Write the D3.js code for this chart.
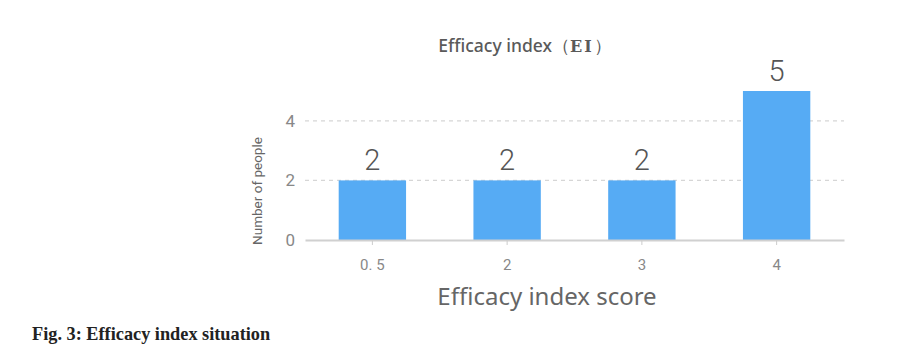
<!DOCTYPE html>
<html><head><meta charset="utf-8">
<script src="https://cdn.jsdelivr.net/npm/d3@7"></script>
<style>body{margin:0;background:#fff}</style>
</head><body>
<svg id="c" width="900" height="356"></svg>
<script>
const categories = ["0. 5", "2", "3", "4"];
const values = [2, 2, 2, 5];
const yTicks = [0, 2, 4];

const svg = d3.select("#c");
const x = d3.scaleBand().domain(categories).range([305, 844]).paddingInner(0.5).paddingOuter(0.25);
const y = d3.scaleLinear().domain([0, 5]).range([240, 91]);

// grid
svg.append("g").selectAll("line").data(yTicks.filter(d => d > 0)).join("line")
  .attr("x1", 305).attr("x2", 844).attr("y1", d => y(d)).attr("y2", d => y(d))
  .attr("stroke", "#d6d6d6").attr("stroke-width", 1.2).attr("stroke-dasharray", "4,4");

// bars
svg.append("g").selectAll("rect").data(values).join("rect")
  .attr("x", (d, i) => x(categories[i])).attr("width", x.bandwidth())
  .attr("y", d => y(d)).attr("height", d => y(0) - y(d))
  .attr("fill", "#56abf4");

// value labels
svg.append("g").selectAll("text").data(values).join("text")
  .attr("x", (d, i) => x(categories[i]) + x.bandwidth() / 2)
  .attr("y", d => y(d) - 10)
  .attr("text-anchor", "middle").attr("font-family", "Roboto").attr("font-weight", 300).attr("font-size", 29)
  .attr("fill", "#555").text(d => d);

// x axis
const xa = svg.append("g").attr("transform", "translate(0,240)").call(d3.axisBottom(x).tickSize(5).tickSizeOuter(0));
xa.select(".domain").attr("stroke", "#d0d0d0").attr("stroke-width", 2);
xa.selectAll(".tick line").attr("stroke", "#ccc");
xa.selectAll(".tick text").attr("font-family", "Roboto").attr("font-size", 15).attr("fill", "#888").attr("dy", "1.45em");

// y axis labels
const ya = svg.append("g").attr("transform", "translate(298,0)").call(d3.axisLeft(y).tickValues(yTicks).tickFormat(d3.format("d")).tickSize(0));
ya.select(".domain").remove();
ya.selectAll(".tick text").attr("font-family", "Roboto").attr("font-size", 17).attr("fill", "#888");

// titles
const t = svg.append("text").attr("x", 525).attr("y", 52).attr("text-anchor", "middle")
  .attr("font-family", "Noto Sans").attr("font-weight", 500).attr("font-size", 17.5).attr("fill", "#5a5a5a");
t.append("tspan").text("Efficacy index（");
t.append("tspan").attr("font-family", "DejaVu Serif").attr("font-weight", "bold").attr("font-size", 16).attr("letter-spacing", 2).text("EI");
t.append("tspan").text("）");

svg.append("text").attr("x", 547).attr("y", 305).attr("text-anchor", "middle")
  .attr("font-family", "Noto Sans").attr("font-size", 24).attr("fill", "#666").text("Efficacy index score");

svg.append("text").attr("transform", "translate(262,191) rotate(-90)").attr("text-anchor", "middle")
  .attr("font-family", "Roboto").attr("font-size", 13.5).attr("fill", "#666").text("Number of people");

svg.append("text").attr("x", 32).attr("y", 340)
  .attr("font-family", "Liberation Serif").attr("font-weight", "bold").attr("font-size", 18.3).attr("fill", "#222")
  .text("Fig. 3: Efficacy index situation");
</script>
</body></html>
